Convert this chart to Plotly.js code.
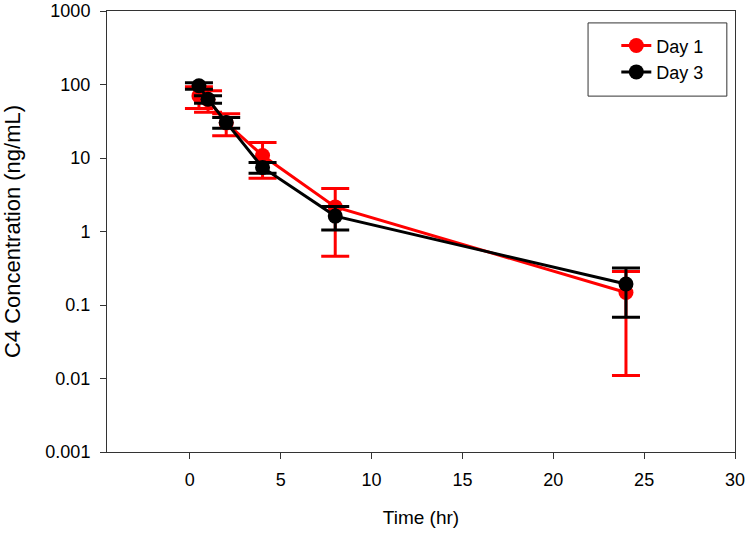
<!DOCTYPE html>
<html>
<head>
<meta charset="utf-8">
<script src="https://cdn.plot.ly/plotly-3.0.1.min.js"></script>
<style>html,body{margin:0;padding:0;background:#fff;}#chart{width:750px;height:534px;}</style>
</head>
<body>
<div id="chart"></div>
<script>
const timeHr = [0.5, 1, 2, 4, 8, 24];
const day1Mean = [70, 62, 30, 10.8, 2.16, 0.148];
const day1SD = [23, 20, 10, 5.5, 1.7, 0.137];
const day3Mean = [96, 63, 30.5, 7.45, 1.62, 0.193];
const day3SD = [10, 7.5, 5.2, 1.25, 0.57, 0.125];
const yTickVals = [0.001, 0.01, 0.1, 1, 10, 100, 1000];
const yTickText = ["0.001", "0.01", "0.1", "1", "10", "100", "1000"];
const seriesNames = ["Day 1", "Day 3"];

const fontFam = "Liberation Sans, Arial, sans-serif";
function mk(name, y, sd, color) {
  return {
    type: "scatter", mode: "lines+markers", name: name,
    x: timeHr, y: y,
    line: {color: color, width: 3},
    marker: {color: color, size: 15, symbol: "circle"},
    error_y: {type: "data", array: sd, visible: true, color: color, thickness: 3, width: 14}
  };
}
const data = [
  mk(seriesNames[0], day1Mean, day1SD, "#FF0000"),
  mk(seriesNames[1], day3Mean, day3SD, "#000000")
];
const layout = {
  width: 750, height: 534,
  margin: {l: 107, r: 15, t: 11, b: 82},
  paper_bgcolor: "#fff", plot_bgcolor: "#fff",
  font: {family: fontFam, size: 18, color: "#000"},
  showlegend: true,
  legend: {
    x: 0.811, xanchor: "left", y: 0.963, yanchor: "top",
    borderwidth: 0, bgcolor: "rgba(0,0,0,0)",
    font: {family: fontFam, size: 18, color: "#000"},
    tracegroupgap: 0
  },
  shapes: [{
    type: "rect", xref: "paper", yref: "paper",
    x0: 0.766, x1: 0.987, y0: 0.807, y1: 0.973,
    line: {color: "#333", width: 1}, fillcolor: "rgba(0,0,0,0)", layer: "below"
  }],
  xaxis: {
    range: [-4.56, 30], tick0: 0, dtick: 5,
    showline: true, linecolor: "#333", linewidth: 1, mirror: true,
    ticks: "outside", ticklen: 6, tickcolor: "#333",
    showgrid: false, zeroline: false,
    ticklabelstandoff: 5,
    tickfont: {size: 18},
    title: {text: "Time (hr)", font: {size: 19}, standoff: 22}
  },
  yaxis: {
    type: "log", range: [-3, 3],
    tickvals: yTickVals, ticktext: yTickText,
    showline: true, linecolor: "#333", linewidth: 1, mirror: true,
    ticks: "outside", ticklen: 6, tickcolor: "#333",
    showgrid: false, zeroline: false,
    ticklabelstandoff: 6,
    tickfont: {size: 18},
    title: {text: "C4 Concentration (ng/mL)", font: {size: 22}, standoff: 18}
  }
};
Plotly.newPlot("chart", data, layout, {displayModeBar: false, staticPlot: true});
</script>
</body>
</html>
